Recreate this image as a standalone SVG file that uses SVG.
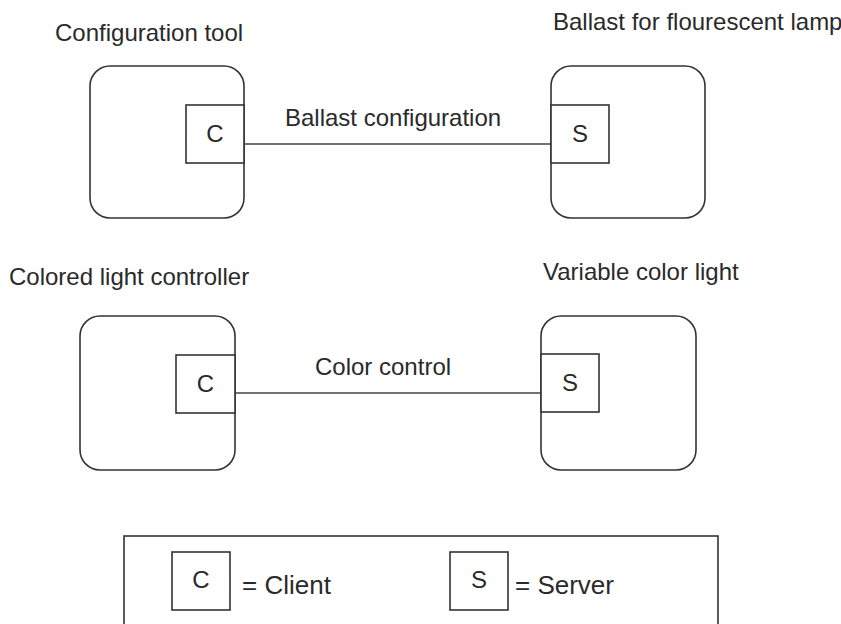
<svg xmlns="http://www.w3.org/2000/svg" width="841" height="624" viewBox="0 0 841 624">
<style>
  .outer { fill: #ffffff; stroke: #333333; stroke-width: 1.6; }
  .port { fill: #ffffff; stroke: #333333; stroke-width: 1.6; }
  .conn { fill: none; stroke: #444444; stroke-width: 1.6; }
  .lbl { font-family: "Liberation Sans", Arial, sans-serif; font-size: 24px; fill: #2a2a2a; }
  .mid { text-anchor: middle; }
  .leg { font-family: "Liberation Sans", Arial, sans-serif; font-size: 26px; fill: #2a2a2a; }
</style>
<rect x="0" y="0" width="841" height="624" fill="#ffffff"/>

<g id="connectors">
  <line class="conn" x1="244" y1="144" x2="551" y2="144"/>
  <text class="lbl" x="285" y="126">Ballast configuration</text>
  <line class="conn" x1="235" y1="393" x2="541" y2="393"/>
  <text class="lbl" x="315" y="375">Color control</text>
</g>

<g id="configuration-tool">
  <text class="lbl" x="55" y="41">Configuration tool</text>
  <rect class="outer" x="90" y="66" width="154" height="152" rx="20" ry="20"/>
  <rect class="port" x="186" y="105" width="58" height="58"/>
  <text class="lbl mid" x="215" y="142">C</text>
</g>

<g id="ballast">
  <text class="lbl" x="553" y="30">Ballast for flourescent lamp</text>
  <rect class="outer" x="551" y="66" width="154" height="152" rx="20" ry="20"/>
  <rect class="port" x="551" y="105" width="58" height="58"/>
  <text class="lbl mid" x="580" y="142">S</text>
</g>

<g id="colored-light-controller">
  <text class="lbl" x="9" y="285">Colored light controller</text>
  <rect class="outer" x="80" y="316" width="155" height="154" rx="20" ry="20"/>
  <rect class="port" x="176" y="355" width="59" height="58"/>
  <text class="lbl mid" x="205.5" y="392">C</text>
</g>

<g id="variable-color-light">
  <text class="lbl" x="543" y="280">Variable color light</text>
  <rect class="outer" x="541" y="316" width="155" height="154" rx="20" ry="20"/>
  <rect class="port" x="541" y="354" width="58" height="58"/>
  <text class="lbl mid" x="570" y="391">S</text>
</g>

<g id="legend">
  <rect class="outer" x="124" y="536" width="594" height="100"/>
  <rect class="port" x="172" y="552" width="58" height="58"/>
  <text class="lbl mid" x="201" y="588">C</text>
  <text class="leg" x="242" y="594">= Client</text>
  <rect class="port" x="450" y="552" width="58" height="58"/>
  <text class="lbl mid" x="479" y="588">S</text>
  <text class="leg" x="515" y="594">= Server</text>
</g>
</svg>
